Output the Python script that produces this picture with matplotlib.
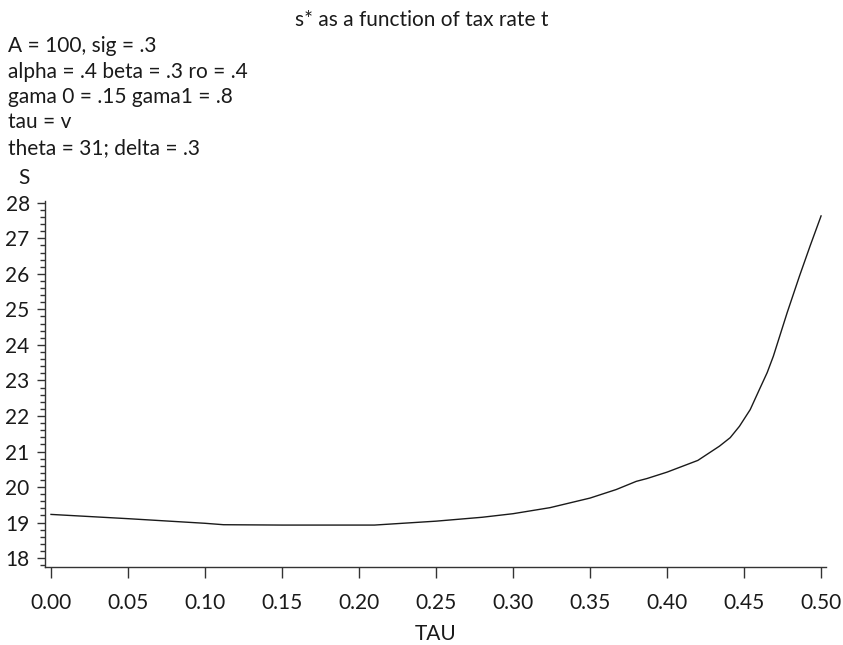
import numpy as np
import matplotlib
matplotlib.use("Agg")
import matplotlib.pyplot as plt
from matplotlib.ticker import MultipleLocator

plt.rcParams['font.family'] = ['Lato', 'DejaVu Sans']
plt.rcParams['font.size'] = 15

# values
tau = [0.00, 0.05, 0.10, 0.112, 0.15, 0.21, 0.25, 0.28, 0.30, 0.324, 0.35,
       0.367, 0.38, 0.387, 0.40, 0.42, 0.434, 0.441, 0.447, 0.454, 0.46, 0.465,
       0.469, 0.478, 0.486, 0.493, 0.50]
s_star = [19.23, 19.11, 18.98, 18.94, 18.93, 18.93, 19.04, 19.15, 19.25, 19.42, 19.69,
          19.93, 20.16, 20.24, 20.42, 20.75, 21.15, 21.39, 21.71, 22.18, 22.75, 23.22,
          23.68, 24.91, 25.94, 26.80, 27.63]

title = "s* as a function of tax rate t"
notes = ["A = 100, sig = .3",
         "alpha = .4 beta = .3 ro = .4",
         "gama 0 = .15 gama1 = .8",
         "tau = v",
         "theta = 31; delta = .3"]

W, H = 843, 645
fig = plt.figure(figsize=(W / 100, H / 100), dpi=100)
ax = fig.add_axes([45 / W, 1 - 567 / H, 781 / W, 366 / H])

ax.plot(tau, s_star, color="#1a1a1a", lw=1.0)

ax.set_xlim(-0.0039, 0.5032)
ax.set_ylim(17.75, 28.05)
ax.xaxis.set_major_locator(MultipleLocator(0.05))
ax.yaxis.set_major_locator(MultipleLocator(1))
ax.yaxis.set_minor_locator(MultipleLocator(0.2))
ax.xaxis.set_major_formatter(plt.FuncFormatter(lambda v, p: f"{v:.2f}"))
ax.yaxis.set_major_formatter(plt.FuncFormatter(lambda v, p: f"{v:.0f}"))

for side in ["top", "right"]:
    ax.spines[side].set_visible(False)
for side in ["left", "bottom"]:
    ax.spines[side].set_color("#333333")
    ax.spines[side].set_linewidth(1.0)

ax.tick_params(axis="x", which="major", length=8, width=1, color="#333333",
               pad=11, labelcolor="#1a1a1a")
ax.tick_params(axis="y", which="major", length=6, width=1, color="#333333",
               pad=5, labelcolor="#1a1a1a")
ax.tick_params(axis="y", which="minor", length=3.5, width=1, color="#333333")

ax.set_xlabel("TAU", labelpad=8, color="#1a1a1a")

fig.text(0.5, 1 - 26 / H, title, ha="center", va="baseline", color="#1a1a1a")
for i, line in enumerate(notes):
    fig.text(8 / W, 1 - (52 + 25.5 * i) / H, line, ha="left", va="baseline",
             color="#1a1a1a")
fig.text(24 / W, 1 - 178 / H, "S", ha="center", va="center", color="#1a1a1a")

fig.savefig("out.png", dpi=100)
